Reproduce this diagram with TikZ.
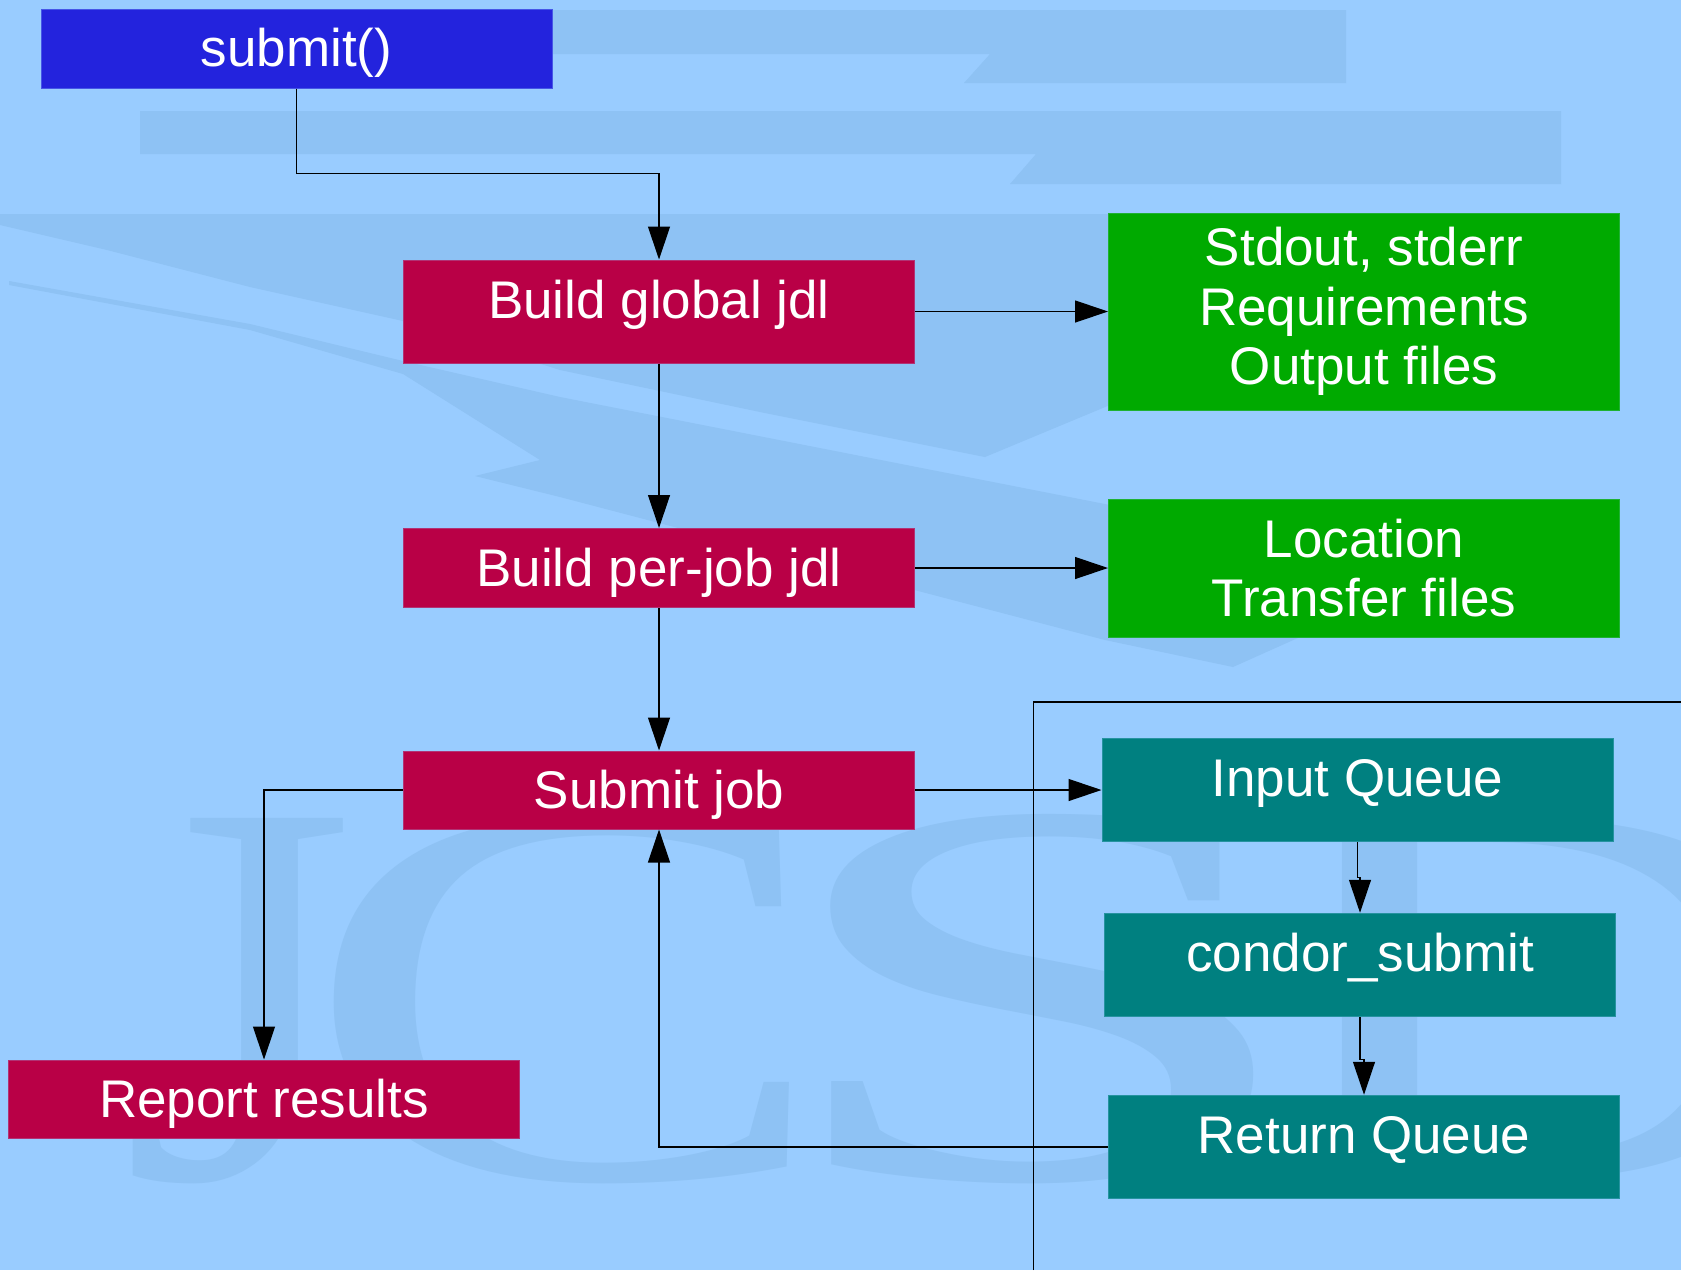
\documentclass[tikz,border=0pt]{standalone}
\usepackage{fontspec}
\setmainfont{Liberation Sans}
\newfontfamily\wmfont{Liberation Serif}
\usetikzlibrary{arrows.meta}
\definecolor{bgblue}{RGB}{153,204,255}
\definecolor{wmblue}{RGB}{142,194,244}
\definecolor{subblue}{RGB}{35,35,221}
\definecolor{crim}{RGB}{185,0,70}
\definecolor{grn}{RGB}{0,170,0}
\definecolor{tl}{RGB}{0,128,128}
\begin{document}
\begin{tikzpicture}[x=1pt,y=-1pt,
  box/.style={rectangle, inner sep=0pt, minimum width=511pt, text=white,
    font=\fontsize{53}{59.5}\selectfont, align=center, line width=1pt},
  one/.style={text height=47pt, text depth=11pt},
  raised/.style={text height=47pt, text depth=34pt},
  crimbox/.style={box, fill=crim, draw=crim!75!bgblue},
  grnbox/.style={box, fill=grn, draw=grn!80!bgblue},
  tlbox/.style={box, fill=tl, draw=tl!75!bgblue},
  arr/.style={-{Triangle[length=33pt,width=22pt]}, line width=1.2pt, black},
  wm/.style={fill=wmblue, draw=none},
  wmtext/.style={anchor=base, inner sep=0pt, text=wmblue,
    font=\wmfont\fontsize{550}{550}\selectfont, xscale=#1},
  wmtext/.default=1.45]
\useasboundingbox (0,0) rectangle (1681,1270);
\fill[bgblue] (0,0) rectangle (1681,1270);
% watermark
\begin{scope}
\clip (0,0) rectangle (1681,1270);
\fill[wm] (60,10) -- (1346,10) -- (1346,83) -- (964,83) -- (990,54) -- (60,54) -- cycle;
\fill[wm] (140,111) -- (1561,111) -- (1561,184) -- (1010,184) -- (1036,154) -- (140,154) -- cycle;
\fill[wm] (0,214) -- (1110,214) -- (1110,405) -- (985,457) -- (760,412) -- (560,370)
  -- (403,321) -- (250,287) -- (107,250) -- (0,225) -- cycle;
\fill[wm] (9,281) -- (250,324) -- (403,361) -- (560,397) -- (1110,505) -- (1300,560)
  -- (1300,637) -- (1233,667) -- (1105,640) -- (560,497) -- (475,476) -- (540,460)
  -- (403,374) -- (250,330) -- (9,285) -- cycle;
\node[wmtext=1.1] (wJ) at (238,1178) {J};
\node[wmtext] (wC) at (567,1178) {C};
\node[wmtext=1.8] (wS) at (1040,1178) {S};
\node[wmtext] (wD) at (1540,1178) {D};
\end{scope}
% frame line
\coordinate (f1) at (1033.5,1270);
\coordinate (f2) at (1033.5,702);
\coordinate (f3) at (1681,702);
\draw[line width=1.2pt] (f1) -- (f2) -- (f3);
% nodes
\node[box, fill=subblue, draw=subblue!70!bgblue, minimum height=79pt, one] (sub) at (296.5,48.5) {submit()};
\node[crimbox, minimum height=103pt, raised] (bg) at (659,311.5) {Build global jdl};
\node[grnbox, minimum height=197pt] (g1) at (1364,311.5) {Stdout, stderr\\Requirements\\Output files};
\node[crimbox, minimum height=79pt, one] (pj) at (659,568) {Build per-job jdl};
\node[grnbox, minimum height=138pt] (g2) at (1364,568) {Location\\Transfer files};
\node[crimbox, minimum height=78pt, one] (sj) at (659,790) {Submit job};
\node[tlbox, minimum height=103pt, raised] (iq) at (1357.5,790) {Input Queue};
\node[tlbox, minimum height=103.5pt, raised] (cs) at (1360,965) {condor\_submit};
\node[tlbox, minimum height=103.5pt, raised] (rq) at (1364,1147) {Return Queue};
\node[crimbox, minimum height=78pt, one] (rr) at (264,1099) {Report results};
% connectors
\draw[arr] (sub.south) |- ([yshift=86pt]bg.north) -- (bg.north);
\draw[arr] (bg.east) -- (g1.west);
\draw[arr] (bg.south) -- (pj.north);
\draw[arr] (pj.east) -- (g2.west);
\draw[arr] (pj.south) -- (sj.north);
\draw[arr] (sj.east) -- (iq.west);
\draw[arr] (sj.west) -| (rr.north);
\draw[arr] (rq.west) -| (sj.south);
\draw[arr] (iq.south) |- ([yshift=35pt]cs.north) -- (cs.north);
\draw[arr] (cs.south) |- ([yshift=35pt]rq.north) -- (rq.north);
\end{tikzpicture}
\end{document}
